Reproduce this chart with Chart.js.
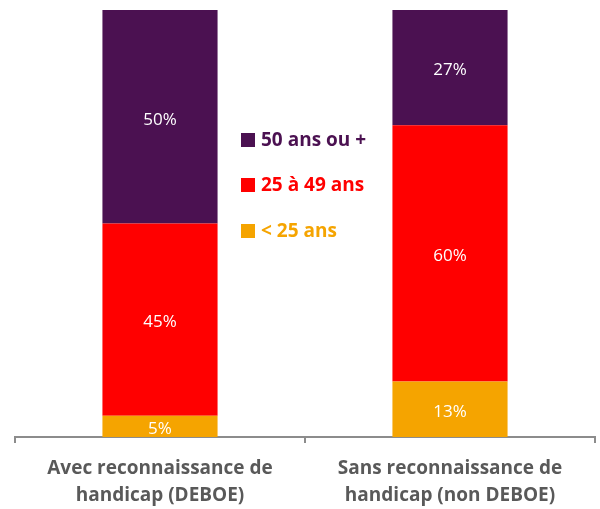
<!DOCTYPE html>
<html>
<head>
<meta charset="utf-8">
<script src="https://cdn.jsdelivr.net/npm/chart.js@4"></script>
<style>
  html, body { margin: 0; padding: 0; background: #fff; }
  #wrap { width: 600px; height: 509px; }
</style>
</head>
<body>
<div id="wrap"><canvas id="chart"></canvas></div>
<script>
// categories (two lines each)
let categories = [
    ['Avec reconnaissance de', 'handicap (DEBOE)'],
    ['Sans reconnaissance de', 'handicap (non DEBOE)']
];
// series, bottom to top
let series_labels = ['< 25 ans', '25 à 49 ans', '50 ans ou +'];
let moins_25 = [5, 13];
let de_25_49 = [45, 60];
let plus_50 = [50, 27];
let series_colors = ['#F5A400', '#FF0000', '#4B1151'];

// white percentage labels in the middle of each segment
const valueLabels = {
    id: 'valueLabels',
    afterDatasetsDraw(chart) {
        let ctx = chart.ctx;
        ctx.save();
        ctx.fillStyle = '#ffffff';
        ctx.font = '17px "Open Sans", sans-serif';
        ctx.textAlign = 'center';
        ctx.textBaseline = 'middle';
        chart.data.datasets.forEach(function (ds, i) {
            chart.getDatasetMeta(i).data.forEach(function (bar, j) {
                let mid = (bar.y + bar.base) / 2;
                ctx.fillText(ds.data[j] + '%', bar.x, mid + 3);
            });
        });
        ctx.restore();
    }
};

// legend placed between the two bars, top item = top series
const middleLegend = {
    id: 'middleLegend',
    afterDraw(chart) {
        let ctx = chart.ctx;
        ctx.save();
        ctx.font = 'bold 19px "Open Sans", sans-serif';
        ctx.textBaseline = 'middle';
        let ys = [140, 185, 231];
        let order = [2, 1, 0];
        order.forEach(function (k, n) {
            let ds = chart.data.datasets[k];
            ctx.fillStyle = ds.backgroundColor;
            ctx.fillRect(241, ys[n] - 7, 14, 14);
            ctx.fillText(ds.label, 261, ys[n] + 1);
        });
        ctx.restore();
    }
};

new Chart(document.getElementById('chart'), {
    type: 'bar',
    data: {
        labels: categories,
        datasets: [
            { label: series_labels[0], data: moins_25, backgroundColor: series_colors[0] },
            { label: series_labels[1], data: de_25_49, backgroundColor: series_colors[1] },
            { label: series_labels[2], data: plus_50, backgroundColor: series_colors[2] }
        ]
    },
    options: {
        responsive: true,
        maintainAspectRatio: false,
        animation: false,
        layout: { padding: { left: 15, right: 5, top: 10, bottom: -12 } },
        datasets: { bar: { categoryPercentage: 0.397, barPercentage: 1 } },
        plugins: {
            legend: { display: false },
            tooltip: { enabled: false }
        },
        scales: {
            x: {
                stacked: true,
                border: { display: true, color: '#8c8c8c', width: 2 },
                grid: {
                    display: true,
                    offset: true,
                    drawOnChartArea: false,
                    drawTicks: true,
                    tickLength: 6,
                    color: '#8c8c8c',
                    lineWidth: 2
                },
                ticks: {
                    color: '#595959',
                    padding: 12,
                    font: { family: '"Open Sans", sans-serif', size: 19, weight: 'bold', lineHeight: 1.42 },
                    maxRotation: 0
                }
            },
            y: {
                stacked: true,
                display: false,
                min: 0,
                max: 100
            }
        }
    },
    plugins: [valueLabels, middleLegend]
});
</script>
</body>
</html>
